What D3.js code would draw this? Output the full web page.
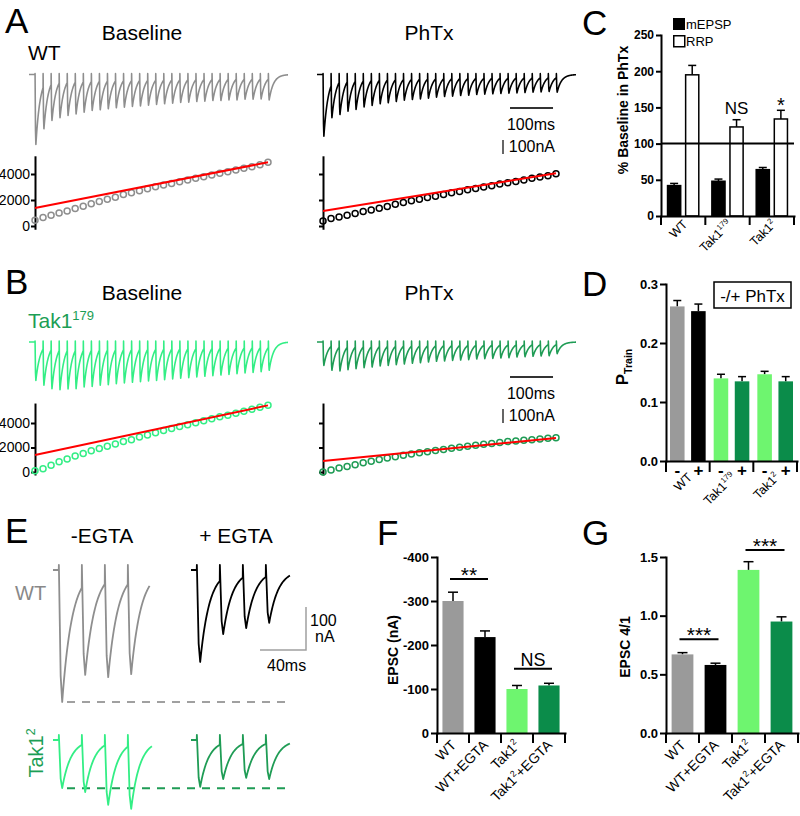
<!DOCTYPE html>
<html><head><meta charset="utf-8">
<script src="https://cdn.jsdelivr.net/npm/d3@7"></script>
<style>body{margin:0;background:#fff}svg{display:block}</style>
</head><body><script>
// ================= DATA =================
const pulseNumbers = d3.range(1, 31);
// Train EPSC trough amplitudes (nA), 30 pulses
const wtBaselineTroughs = [500,388,328,309,293,281,269,257,252,245,238,233,228,224,219,214,209,205,200,198,193,190,186,186,181,181,176,176,174,181];
const wtPhTxTroughs = [440,309,286,262,250,231,221,209,202,193,183,179,174,169,162,157,155,150,148,143,140,138,136,133,131,129,126,124,121,126];
const tak179BaselineTroughs = [274,309,333,340,336,333,321,317,309,305,298,293,288,283,278,274,269,264,259,255,250,245,240,236,231,226,221,217,212,202];
const tak179PhTxTroughs = [167,202,207,198,190,183,179,171,167,162,157,152,148,143,138,136,131,129,126,121,119,117,114,112,107,105,102,100,98,83];
// Cumulative EPSC (nA)
const wtBaselineCum = [439,645,826,1006,1161,1342,1522,1703,1883,2064,2219,2425,2554,2709,2864,3019,3148,3277,3406,3535,3664,3793,3922,4051,4180,4309,4438,4567,4721,4901];
const wtPhTxCum = [387,568,697,826,955,1109,1238,1367,1496,1677,1806,1935,2064,2193,2296,2425,2554,2657,2786,2890,2993,3096,3225,3328,3431,3534,3664,3767,3870,4025];
const tak179BaselineCum = [107,267,560,827,1067,1307,1520,1733,1920,2107,2293,2480,2640,2853,3013,3200,3387,3547,3707,3867,4027,4187,4347,4507,4640,4800,4960,5120,5280,5440];
const tak179PhTxCum = [0,160,320,453,587,747,880,1013,1147,1253,1360,1467,1573,1653,1760,1840,1947,2027,2107,2187,2267,2320,2400,2480,2533,2587,2640,2693,2747,2800];
// Linear fits: value at pulse 1 and pulse 30
const wtBaselineFit = [1385, 4901];
const wtPhTxFit = [1160, 4050];
const tak179BaselineFit = [1387, 5440];
const tak179PhTxFit = [907, 2773];
const cumTicks = [0, 2000, 4000];

// Panel C
const cGroups = ["WT", "Tak1^{179}", "Tak1^{2}"];
const cSeries = ["mEPSP", "RRP"];
const cMEPSP = [42, 48, 64];
const cMEPSPErr = [3, 3, 3];
const cRRP = [195, 123, 134];
const cRRPErr = [13, 10, 12];
const cTicks = [0, 50, 100, 150, 200, 250];

// Panel D
const dGroups = ["WT", "Tak1^{179}", "Tak1^{2}"];
const dConds = ["-", "+"];
const dValues = [[0.262, 0.254], [0.140, 0.135], [0.147, 0.135]];
const dErrors = [[0.010, 0.012], [0.007, 0.008], [0.005, 0.008]];
const dTicks = [0, 0.1, 0.2, 0.3];

// Panel E: trough amplitudes (nA) of 4-pulse trains
const ePulseMs = [5, 25, 45, 65];
const eWtNoEgta = [307, 244, 249, 242];
const eWtEgta = [214, 149, 135, 123];
const eTakNoEgta = [112, 121, 151, 160];
const eTakEgta = [109, 91, 88, 91];

// Panel F
const fCats = ["WT", "WT+EGTA", "Tak1^{2}", "Tak1^{2}+EGTA"];
const fValues = [300, 218, 100, 108];
const fErrors = [20, 14, 8, 5];
const fTicks = [0, 100, 200, 300, 400];

// Panel G
const gCats = ["WT", "WT+EGTA", "Tak1^{2}", "Tak1^{2}+EGTA"];
const gValues = [0.67, 0.58, 1.39, 0.95];
const gErrors = [0.015, 0.015, 0.07, 0.04];
const gTicks = [0, 0.5, 1.0, 1.5];

// ================= DRAWING =================
const FONT = '"Liberation Sans", Arial, Helvetica, sans-serif';
const GRAY = "#9a9a9a", BLACK = "#000", LGREEN = "#6ef56f", DGREEN = "#0b8c4a";
const TR_GRAY = "#8e8e8e", TR_LG = "#33ee85", TR_DG = "#1f9c55", LABEL_G = "#1c9e55";

const svg = d3.select("body").append("svg").attr("width", 800).attr("height", 816)
  .style("font-family", FONT);

function rich(t, s, size) {
  const re = /(\^|_)\{([^}]*)\}/g;
  let last = 0, m, shift = 0;
  while ((m = re.exec(s)) !== null) {
    if (m.index > last) { t.append("tspan").attr("dy", -shift || null).text(s.slice(last, m.index)); shift = 0; }
    const sh = m[1] === "^" ? -size * 0.4 : size * 0.25;
    t.append("tspan").attr("font-size", size * 0.62).attr("dy", sh - shift).text(m[2]);
    shift = sh; last = re.lastIndex;
  }
  if (last < s.length) t.append("tspan").attr("dy", -shift || null).text(s.slice(last));
}
function txt(g, x, y, s, o = {}) {
  const size = o.size || 14;
  const t = g.append("text").attr("x", x).attr("y", y).attr("font-size", size)
    .attr("font-weight", o.weight || "normal").attr("text-anchor", o.anchor || "start")
    .attr("fill", o.fill || "#000");
  if (o.transform) t.attr("transform", o.transform);
  rich(t, s, size);
  return t;
}
function styleAxis(sel, size, weight) {
  sel.attr("font-family", FONT).attr("font-size", size);
  sel.select(".domain").attr("stroke", "#000").attr("stroke-width", 2).attr("stroke-linecap", "square");
  sel.selectAll(".tick line").attr("stroke", "#000").attr("stroke-width", 2);
  sel.selectAll(".tick text").attr("font-weight", weight).attr("fill", "#000");
}

// ---- panel letters & titles
[["A",5,33],["B",5,294],["C",582,35],["D",582,296],["E",5,543],["F",377,545],["G",582,545]]
  .forEach(([t,x,y]) => txt(svg, x, y, t, {size: 35}));
txt(svg, 142, 40, "Baseline", {size: 21, anchor: "middle"});
txt(svg, 429, 40, "PhTx", {size: 21, anchor: "middle"});
txt(svg, 142, 300, "Baseline", {size: 21, anchor: "middle"});
txt(svg, 429, 300, "PhTx", {size: 21, anchor: "middle"});
txt(svg, 28, 60, "WT", {size: 21});
txt(svg, 28, 328, "Tak1^{179}", {size: 21, fill: LABEL_G});

// ---- traces
function tracePoints(troughs, pulseMs, endMs, tau, rise, art) {
  const pts = [[0, 0]];
  let level = 0;
  troughs.forEach((a, i) => {
    const t0 = pulseMs[i];
    const tNext = i < troughs.length - 1 ? pulseMs[i + 1] : endMs;
    pts.push([t0, level]);
    pts.push([t0 + 0.1, art]);
    pts.push([t0 + rise * 0.55, -a * 0.8]);
    pts.push([t0 + rise, -a]);
    for (let t = t0 + rise + 0.5; t < tNext; t += 0.5) pts.push([t, -a * Math.exp(-(t - t0 - rise) / tau)]);
    level = -a * Math.exp(-(tNext - t0 - rise) / tau);
  });
  pts.push([endMs, level]);
  return pts;
}
function drawTrace(g, pts, xs, ys, color, w) {
  g.append("path").attr("d", d3.line().x(d => xs(d[0])).y(d => ys(d[1]))(pts))
    .attr("fill", "none").attr("stroke", color).attr("stroke-width", w || 1.5)
    .attr("stroke-linejoin", "round");
}
const trainMs = pulseNumbers.map(n => 14 + (n - 1) * 18.7);
const trainEnd = 602;
const xTrL = d3.scaleLinear().domain([0, trainEnd]).range([29, 288]);
const xTrR = d3.scaleLinear().domain([0, trainEnd]).range([317, 576]);
const yTrA = d3.scaleLinear().domain([0, -100]).range([74.5, 88.5]);
const yTrB = d3.scaleLinear().domain([0, -100]).range([342, 356]);
drawTrace(svg, tracePoints(wtBaselineTroughs, trainMs, trainEnd, 10, 2, 6), xTrL, yTrA, TR_GRAY, 1.6);
drawTrace(svg, tracePoints(wtPhTxTroughs, trainMs, trainEnd, 10, 2, 6), xTrR, yTrA, "#000", 1.6);
drawTrace(svg, tracePoints(tak179BaselineTroughs, trainMs, trainEnd, 10, 2, 6), xTrL, yTrB, TR_LG, 1.6);
drawTrace(svg, tracePoints(tak179PhTxTroughs, trainMs, trainEnd, 10, 2, 6), xTrR, yTrB, TR_DG, 1.6);

// scale bars for trains
function trainScale(y0, yTr) {
  const len = xTrR(100) - xTrR(0);
  svg.append("line").attr("x1", 510).attr("x2", 510 + len).attr("y1", y0).attr("y2", y0)
    .attr("stroke", "#333").attr("stroke-width", 2);
  txt(svg, 555, y0 + 22, "100ms", {size: 16, anchor: "end"});
  const h = yTr(-100) - yTr(0);
  svg.append("line").attr("x1", 503).attr("x2", 503).attr("y1", y0 + 32).attr("y2", y0 + 32 + h)
    .attr("stroke", "#333").attr("stroke-width", 1.5);
  txt(svg, 555, y0 + 44, "100nA", {size: 16, anchor: "end"});
}
trainScale(108, yTrA);
trainScale(377, yTrB);

// ---- cumulative plots
function drawCum(cum, fit, xRange, y0px, y4000px, top, bottom, color, labels) {
  const g = svg.append("g");
  const x = d3.scaleLinear().domain([1, 30]).range(xRange);
  const y = d3.scaleLinear().domain([0, 4000]).range([y0px, y4000px]);
  const ax = g.append("g").attr("transform", `translate(${xRange[0]},0)`)
    .call(d3.axisLeft(d3.scaleLinear().domain([bottom, top]).range([y(bottom), y(top)]))
      .tickValues(cumTicks).tickSize(4).tickSizeOuter(0).tickPadding(1)
      .tickFormat(labels ? d3.format("d") : () => ""));
  styleAxis(ax, 14, "normal");
  ax.select(".domain").attr("stroke-linecap", "butt");
  g.selectAll("circle").data(cum).join("circle")
    .attr("cx", (d, i) => x(pulseNumbers[i])).attr("cy", d => y(d)).attr("r", 3)
    .attr("fill", "none").attr("stroke", color).attr("stroke-width", 1.5);
  g.append("path").attr("d", d3.line().x(d => x(d[0])).y(d => y(d[1]))([[1, fit[0]], [30, fit[1]]]))
    .attr("stroke", "#ff0000").attr("stroke-width", 2).attr("fill", "none");
}
drawCum(wtBaselineCum, wtBaselineFit, [35, 268], 226, 174, 5400, -250, TR_GRAY, true);
drawCum(wtPhTxCum, wtPhTxFit, [323, 556], 226, 174, 5400, -250, "#000", false);
drawCum(tak179BaselineCum, tak179BaselineFit, [35, 268], 472, 423, 5630, -245, TR_LG, true);
drawCum(tak179PhTxCum, tak179PhTxFit, [323, 556], 472, 423, 5630, -245, TR_DG, false);

// ---- error bar helper
function errBar(g, cx, yTop, yErr, cap) {
  g.append("line").attr("x1", cx).attr("x2", cx).attr("y1", yTop).attr("y2", yErr)
    .attr("stroke", "#000").attr("stroke-width", 1.5);
  g.append("line").attr("x1", cx - cap).attr("x2", cx + cap).attr("y1", yErr).attr("y2", yErr)
    .attr("stroke", "#000").attr("stroke-width", 1.5);
}

// ---- Panel C
{
  const g = svg.append("g");
  const x = d3.scaleBand().domain(cGroups).range([661, 794]);
  const xi = d3.scaleBand().domain(cSeries).range([0, x.bandwidth()]).paddingInner(0.19).paddingOuter(0.32);
  const y = d3.scaleLinear().domain([0, 250]).range([216, 35]);
  cGroups.forEach((gr, i) => {
    cSeries.forEach((s, j) => {
      const v = j ? cRRP[i] : cMEPSP[i], e = j ? cRRPErr[i] : cMEPSPErr[i];
      const bx = x(gr) + xi(s), bw = xi.bandwidth();
      errBar(g, bx + bw / 2, y(v), y(v + e), 4);
      g.append("rect").attr("x", bx + 0.75).attr("y", y(v)).attr("width", bw - 1.5)
        .attr("height", y(0) - y(v)).attr("fill", j ? "#fff" : "#000")
        .attr("stroke", "#000").attr("stroke-width", 1.5);
    });
  });
  g.append("line").attr("x1", 661).attr("x2", 794).attr("y1", y(100)).attr("y2", y(100))
    .attr("stroke", "#000").attr("stroke-width", 2);
  const ay = g.append("g").attr("transform", "translate(661,0)")
    .call(d3.axisLeft(y).tickValues(cTicks).tickSize(5).tickSizeOuter(0).tickPadding(2));
  styleAxis(ay, 12, "bold");
  const axb = g.append("g").attr("transform", `translate(0,${y(0)})`)
    .call(d3.axisBottom(x).tickSize(0).tickSizeOuter(0).tickFormat(() => ""));
  styleAxis(axb, 12, "normal");
  [...cGroups.map(d => x(d)), 794].forEach(bx => g.append("line").attr("x1", bx).attr("x2", bx)
    .attr("y1", y(0)).attr("y2", y(0) + 9).attr("stroke", "#000").attr("stroke-width", 2));
  cGroups.forEach(gr => {
    const cx = x(gr) + x.bandwidth() / 2 + 5, cy = y(0) + 9;
    txt(g, cx, cy, gr, {size: 12.5, anchor: "end", transform: `rotate(-45,${cx},${cy})`});
  });
  // significance
  const i1 = 1, i2 = 2;
  txt(g, x(cGroups[i1]) + xi("RRP") + xi.bandwidth() / 2, y(cRRP[i1] + cRRPErr[i1]) - 6, "NS", {size: 17, anchor: "middle"});
  txt(g, x(cGroups[i2]) + xi("RRP") + xi.bandwidth() / 2, y(cRRP[i2] + cRRPErr[i2]) + 2, "*", {size: 20, anchor: "middle"});
  // legend
  g.append("rect").attr("x", 673).attr("y", 18).attr("width", 12).attr("height", 12).attr("fill", "#000");
  g.append("rect").attr("x", 673.75).attr("y", 35.75).attr("width", 11).attr("height", 11).attr("fill", "#fff")
    .attr("stroke", "#000").attr("stroke-width", 1.5);
  txt(g, 686, 29, cSeries[0], {size: 13});
  txt(g, 686, 46, cSeries[1], {size: 13});
  txt(g, 628, 110, "% Baseline in PhTx", {size: 14, weight: "bold", anchor: "middle", transform: "rotate(-90,628,110)"});
}

// ---- Panel D
{
  const g = svg.append("g");
  const x = d3.scaleBand().domain(dGroups).range([666, 797]);
  const xi = d3.scaleBand().domain(dConds).range([0, x.bandwidth()]).paddingInner(0.31).paddingOuter(0.19);
  const y = d3.scaleLinear().domain([0, 0.3]).range([461, 284]);
  const colors = [[GRAY, BLACK], [LGREEN, DGREEN], [LGREEN, DGREEN]];
  dGroups.forEach((gr, i) => {
    dConds.forEach((c, j) => {
      const v = dValues[i][j], e = dErrors[i][j];
      const bx = x(gr) + xi(c), bw = xi.bandwidth();
      errBar(g, bx + bw / 2, y(v), y(v + e), 4);
      g.append("rect").attr("x", bx).attr("y", y(v)).attr("width", bw).attr("height", y(0) - y(v))
        .attr("fill", colors[i][j]);
      txt(g, bx + bw / 2, 476, c, {size: 17, weight: "bold", anchor: "middle"});
    });
  });
  const ay = g.append("g").attr("transform", "translate(666,0)")
    .call(d3.axisLeft(y).tickValues(dTicks).tickFormat(d3.format(".1f")).tickSize(6).tickSizeOuter(0).tickPadding(2));
  styleAxis(ay, 13, "bold");
  const axb = g.append("g").attr("transform", `translate(0,${y(0)})`)
    .call(d3.axisBottom(x).tickSize(0).tickSizeOuter(0).tickFormat(() => ""));
  styleAxis(axb, 12, "normal");
  [...dGroups.map(d => x(d)), 797].forEach(bx => g.append("line").attr("x1", bx).attr("x2", bx)
    .attr("y1", y(0)).attr("y2", y(0) + 11).attr("stroke", "#000").attr("stroke-width", 2));
  dGroups.forEach(gr => {
    const cx = x(gr) + x.bandwidth() / 2 + 5, cy = y(0) + 17;
    txt(g, cx, cy, gr, {size: 12.5, anchor: "end", transform: `rotate(-45,${cx},${cy})`});
  });
  g.append("rect").attr("x", 714).attr("y", 282).attr("width", 77).attr("height", 26)
    .attr("fill", "#fff").attr("stroke", "#000").attr("stroke-width", 1.5);
  txt(g, 752.5, 302, "-/+ PhTx", {size: 17, anchor: "middle"});
  txt(g, 628, 367, "P_{Train}", {size: 17, weight: "bold", anchor: "middle", transform: "rotate(-90,628,367)"});
}

// ---- Panel E
{
  const g = svg.append("g");
  txt(g, 102, 543, "-EGTA", {size: 21, anchor: "middle"});
  txt(g, 236, 543, "+ EGTA", {size: 21, anchor: "middle"});
  txt(g, 15, 600, "WT", {size: 20, fill: "#888"});
  txt(g, 43, 753, "Tak1^{2}", {size: 20, anchor: "middle", fill: LABEL_G, transform: "rotate(-90,43,753)"});
  const xM = d3.scaleLinear().domain([0, 85]).range([53, 53 + 85 * 1.15]);
  const xP = d3.scaleLinear().domain([0, 85]).range([191, 191 + 85 * 1.15]);
  const yW = d3.scaleLinear().domain([0, -100]).range([570, 613]);
  const yT = d3.scaleLinear().domain([0, -100]).range([740, 783]);
  // dashed reference lines at first -EGTA trough
  g.append("line").attr("x1", 67).attr("x2", 292).attr("y1", yW(-eWtNoEgta[0])).attr("y2", yW(-eWtNoEgta[0]))
    .attr("stroke", "#a0a0a0").attr("stroke-width", 2).attr("stroke-dasharray", "8,7");
  g.append("line").attr("x1", 67).attr("x2", 292).attr("y1", yT(-eTakNoEgta[0])).attr("y2", yT(-eTakNoEgta[0]))
    .attr("stroke", TR_DG).attr("stroke-width", 2).attr("stroke-dasharray", "8,7");
  drawTrace(g, tracePoints(eWtNoEgta, ePulseMs, 84, 8.5, 3, 12), xM, yW, TR_GRAY, 1.8);
  drawTrace(g, tracePoints(eWtEgta, ePulseMs, 86, 8, 3, 12), xP, yW, "#000", 1.8);
  drawTrace(g, tracePoints(eTakNoEgta, ePulseMs, 86, 7.5, 3, 12), xM, yT, TR_LG, 1.8);
  drawTrace(g, tracePoints(eTakEgta, ePulseMs, 86, 7.5, 3, 12), xP, yT, TR_DG, 1.8);
  // scale bar
  const h = yW(-100) - yW(0), w = xP(40) - xP(0);
  g.append("path").attr("d", `M306,${650 - h}V650H${306 - w}`).attr("fill", "none")
    .attr("stroke", "#a0a0a0").attr("stroke-width", 1.5);
  txt(g, 310, 626, "100", {size: 16});
  txt(g, 315, 642, "nA", {size: 16});
  txt(g, 267, 671, "40ms", {size: 16});
}

// ---- Panels F and G
function simpleBars(cats, vals, errs, ticks, fmt, x0, x1, yMax, color4, ylabel, ylx, yly, sigs) {
  const g = svg.append("g");
  const x = d3.scaleBand().domain(cats).range([x0, x1]).paddingInner(0.34).paddingOuter(0.17);
  const y = d3.scaleLinear().domain([0, yMax]).range([733, 557]);
  cats.forEach((c, i) => {
    const bx = x(c), bw = x.bandwidth();
    errBar(g, bx + bw / 2, y(vals[i]), y(vals[i] + errs[i]), 5);
    g.append("rect").attr("x", bx).attr("y", y(vals[i])).attr("width", bw).attr("height", y(0) - y(vals[i]))
      .attr("fill", color4[i]);
  });
  const ay = g.append("g").attr("transform", `translate(${x0},0)`)
    .call(d3.axisLeft(y).tickValues(ticks).tickFormat(fmt).tickSize(6).tickSizeOuter(0).tickPadding(2));
  styleAxis(ay, 13, "bold");
  const axb = g.append("g").attr("transform", `translate(0,${y(0)})`)
    .call(d3.axisBottom(x).tickSize(0).tickSizeOuter(0).tickFormat(() => ""));
  styleAxis(axb, 12, "normal");
  const step = x.step();
  [...cats.map(c => x(c) - step * 0.17), x1].forEach(bx => g.append("line").attr("x1", bx).attr("x2", bx)
    .attr("y1", y(0)).attr("y2", y(0) + 10).attr("stroke", "#000").attr("stroke-width", 2));
  cats.forEach(c => {
    const cx = x(c) + x.bandwidth() / 2 + 4, cy = y(0) + 13;
    txt(g, cx, cy, c, {size: 14, anchor: "end", transform: `rotate(-45,${cx},${cy})`});
  });
  txt(g, ylx, yly, ylabel, {size: 14, weight: "bold", anchor: "middle", transform: `rotate(-90,${ylx},${yly})`});
  sigs.forEach(s => {
    const xa = x(cats[s.a]) + x.bandwidth() / 2 - 3, xb = x(cats[s.b]) + x.bandwidth() / 2 + 3;
    const ly = y(s.level);
    g.append("line").attr("x1", xa).attr("x2", xb).attr("y1", ly).attr("y2", ly)
      .attr("stroke", "#000").attr("stroke-width", 2);
    if (s.text === "NS") txt(g, (xa + xb) / 2, ly - 3, s.text, {size: 18, anchor: "middle"});
    else txt(g, (xa + xb) / 2, ly + 3, s.text, {size: 21, anchor: "middle"});
  });
}
const fSigs = [{a: 0, b: 1, level: 350, text: "**"}, {a: 2, b: 3, level: 146, text: "NS"}];
const gSigs = [{a: 0, b: 1, level: 0.80, text: "***"}, {a: 2, b: 3, level: 1.56, text: "***"}];
simpleBars(fCats, fValues, fErrors, fTicks, d => d === 0 ? "0" : "-" + d, 437, 565, 400,
  [GRAY, BLACK, LGREEN, DGREEN], "EPSC (nA)", 398, 650, fSigs);
simpleBars(gCats, gValues, gErrors, gTicks, d3.format(".1f"), 666, 798, 1.5,
  [GRAY, BLACK, LGREEN, DGREEN], "EPSC 4/1", 630, 647, gSigs);
</script></body></html>
